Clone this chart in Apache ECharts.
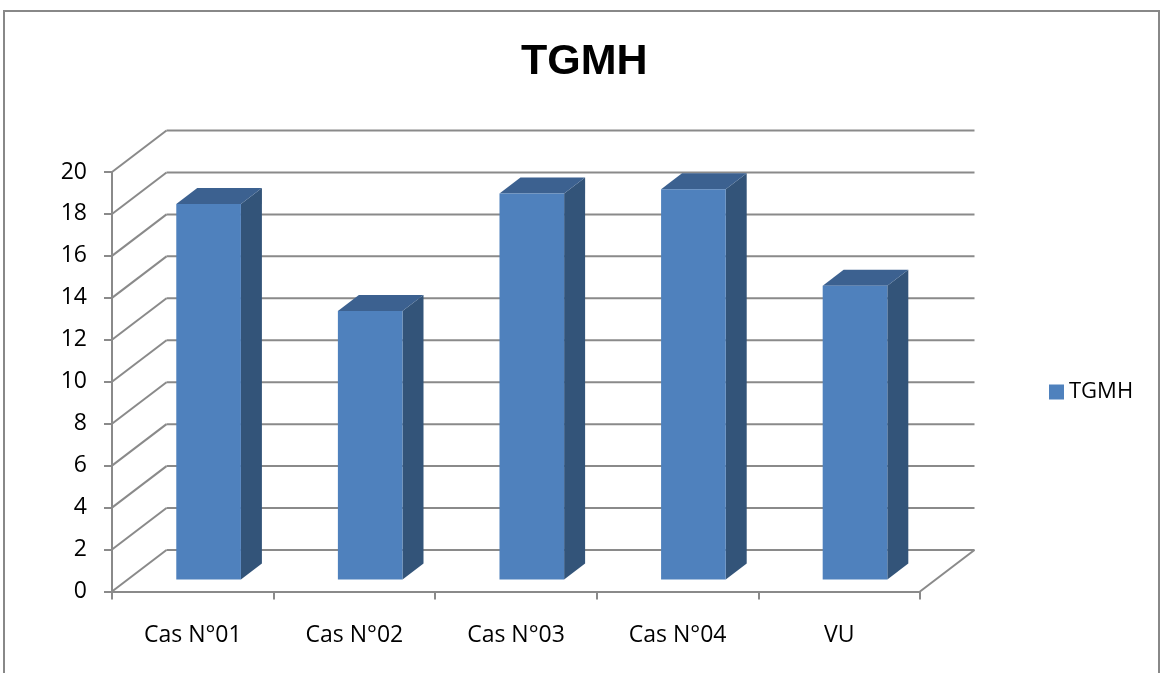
<!DOCTYPE html>
<html>
<head>
<meta charset="utf-8">
<title>TGMH</title>
<script src="https://cdn.jsdelivr.net/npm/echarts@6/dist/echarts.min.js"></script>
<style>
  html, body { margin: 0; padding: 0; background: #ffffff; }
  #chart { width: 1160px; height: 673px; }
</style>
</head>
<body>
<div id="chart"></div>
<script>
// Data
const categories = ['Cas N°01', 'Cas N°02', 'Cas N°03', 'Cas N°04', 'VU'];
const tgmhValues = [17.9, 12.8, 18.4, 18.6, 14.0];
const yTicks = [0, 2, 4, 6, 8, 10, 12, 14, 16, 18, 20];
const seriesName = 'TGMH';

// Oblique depth offset of the back wall (pixels)
const DEPTH_X = 54.5;
const DEPTH_Y = -41.5;
// Bar placement along the depth and across the category band
const BAR_DEPTH_START = 0.29;
const BAR_DEPTH_LEN = 0.385;
const BAR_WIDTH_RATIO = 0.40;

const GRID_COLOR = '#8a8a8a';
const FRONT_COLOR = '#4F81BD';
const SIDE_COLOR = '#335479';
const TOP_COLOR = '#3C6190';

const chart = echarts.init(document.getElementById('chart'), null, { renderer: 'canvas' });

function wallItem(params, api) {
  const cs = params.coordSys;
  const v = api.value(0);
  const y = api.coord([0, v])[1];
  const x0 = cs.x;
  const x1 = cs.x + cs.width;
  const style = { stroke: GRID_COLOR, lineWidth: 2, fill: null };
  const children = [
    { type: 'line', shape: { x1: x0, y1: y, x2: x0 + DEPTH_X, y2: y + DEPTH_Y }, style: style },
    { type: 'line', shape: { x1: x0 + DEPTH_X, y1: y + DEPTH_Y, x2: x1 + DEPTH_X, y2: y + DEPTH_Y }, style: style }
  ];
  if (v === 0) {
    children.push({ type: 'line', shape: { x1: x1, y1: y, x2: x1 + DEPTH_X, y2: y + DEPTH_Y }, style: style });
  }
  return { type: 'group', children: children };
}

function barItem(params, api) {
  const idx = api.value(0);
  const val = api.value(1);
  const base = api.coord([idx, 0]);
  const topPt = api.coord([idx, val]);
  const band = api.size([1, 0])[0];
  const w = band * BAR_WIDTH_RATIO;
  const ox = BAR_DEPTH_START * DEPTH_X;
  const oy = BAR_DEPTH_START * DEPTH_Y;
  const dx = BAR_DEPTH_LEN * DEPTH_X;
  const dy = BAR_DEPTH_LEN * DEPTH_Y;
  const xl = base[0] - w / 2 + ox;
  const xr = base[0] + w / 2 + ox;
  const yb = base[1] + oy;
  const yt = topPt[1] + oy;
  return {
    type: 'group',
    children: [
      { type: 'polygon', shape: { points: [[xr, yt], [xr + dx, yt + dy], [xr + dx, yb + dy], [xr, yb]] },
        style: { fill: SIDE_COLOR } },
      { type: 'polygon', shape: { points: [[xl, yt], [xl + dx, yt + dy], [xr + dx, yt + dy], [xr, yt]] },
        style: { fill: TOP_COLOR } },
      { type: 'rect', shape: { x: xl, y: yt, width: xr - xl, height: yb - yt },
        style: { fill: FRONT_COLOR } }
    ]
  };
}

const option = {
  backgroundColor: '#ffffff',
  animation: false,
  title: {
    text: 'TGMH',
    left: 516,
    top: 36,
    textStyle: { fontFamily: 'Liberation Sans', fontWeight: 'bold', fontSize: 43, color: '#000000' }
  },
  legend: {
    left: 1044,
    top: 376,
    orient: 'vertical',
    icon: 'rect',
    itemWidth: 15,
    itemHeight: 15,
    selectedMode: false,
    data: [{ name: seriesName, itemStyle: { color: FRONT_COLOR } }],
    textStyle: { fontFamily: 'Open Sans', fontSize: 22, color: '#000000' }
  },
  graphic: [{
    type: 'rect',
    shape: { x: 4, y: 11, width: 1155, height: 720 },
    style: { fill: null, stroke: '#888888', lineWidth: 2 },
    silent: true,
    z: -1
  }],
  grid: { left: 112, right: 240, top: 172, bottom: 81.5, containLabel: false },
  xAxis: {
    type: 'category',
    data: categories,
    boundaryGap: true,
    axisLine: { show: true, lineStyle: { color: GRID_COLOR, width: 2 } },
    axisTick: { show: true, length: 8, lineStyle: { color: GRID_COLOR, width: 2 } },
    axisLabel: { margin: 32, fontFamily: 'Open Sans', fontSize: 23, color: '#000000' },
    splitLine: { show: false }
  },
  yAxis: {
    type: 'value',
    min: 0,
    max: 20,
    interval: 2,
    axisLine: { show: true, lineStyle: { color: GRID_COLOR, width: 2 } },
    axisTick: { show: true, length: 8, lineStyle: { color: GRID_COLOR, width: 2 } },
    axisLabel: { margin: 25, fontFamily: 'Open Sans', fontSize: 23, color: '#000000' },
    splitLine: { show: false }
  },
  series: [
    {
      name: 'walls',
      type: 'custom',
      z: 1,
      silent: true,
      renderItem: wallItem,
      encode: { y: 0 },
      data: yTicks.map(function (t) { return [t]; })
    },
    {
      name: seriesName,
      type: 'custom',
      z: 3,
      itemStyle: { color: FRONT_COLOR },
      renderItem: barItem,
      encode: { x: 0, y: 1 },
      data: tgmhValues.map(function (v, i) { return [i, v]; })
    }
  ]
};

chart.setOption(option);
</script>
</body>
</html>
